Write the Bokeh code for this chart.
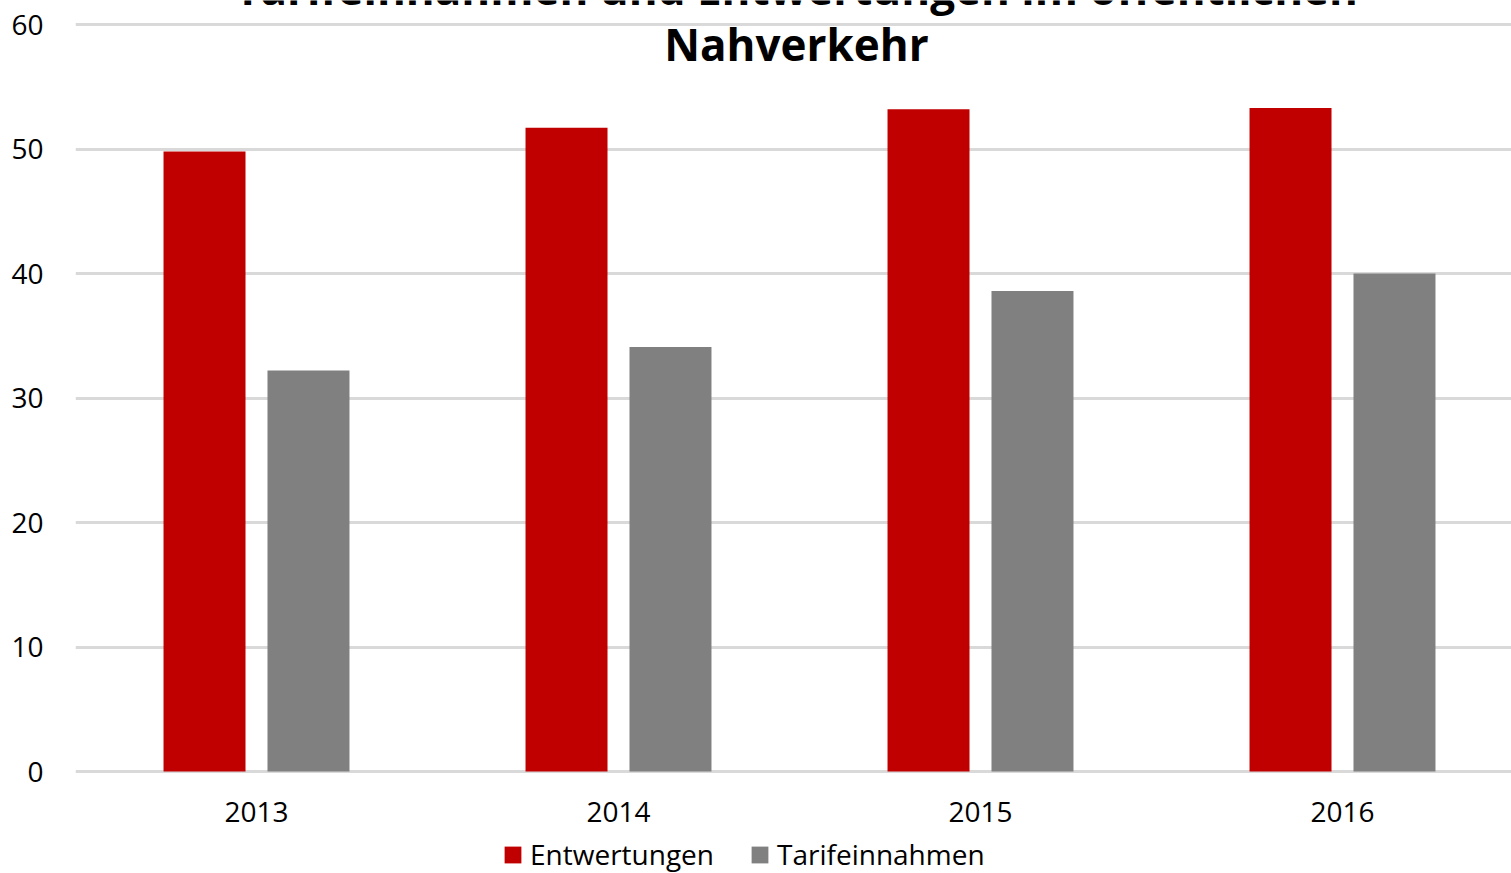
import numpy as np
from bokeh.plotting import figure
from bokeh.models import (ColumnDataSource, Range1d, FixedTicker, Legend, LegendItem, Label)
from bokeh.transform import dodge
from bokeh.embed import file_html
from bokeh.resources import INLINE

years = ["2013", "2014", "2015", "2016"]
entwertungen = [49.8, 51.7, 53.2, 53.3]
tarifeinnahmen = [32.2, 34.1, 38.6, 40.0]
y_ticks = [0, 10, 20, 30, 40, 50, 60]
title_lines = ["Tarifeinnahmen und Entwertungen im öffentlichen", "Nahverkehr"]

idx = list(range(len(years)))
src = ColumnDataSource(dict(x=idx, year=years, ent=entwertungen, tar=tarifeinnahmen))

FONT = "Open Sans"
cat_px = 362.0
px_per_unit = 12.45
frame_w = 1511 - 75
x_end = -0.5 + frame_w / cat_px
y_top = 60 + 24 / px_per_unit
y_bottom = y_top - 873 / px_per_unit

p = figure(width=1511, height=873, output_backend="svg", toolbar_location=None,
           x_range=Range1d(-0.5, x_end), y_range=Range1d(y_bottom, y_top),
           min_border_left=75, min_border_right=0, min_border_top=0, min_border_bottom=0)
p.outline_line_color = None
p.background_fill_color = "white"
p.border_fill_color = "white"

r1 = p.vbar(x=dodge("x", -0.1436, range=p.x_range), top="ent", width=0.2265, source=src,
            fill_color="#C00000", line_color=None)
r2 = p.vbar(x=dodge("x", 0.1436, range=p.x_range), top="tar", width=0.2265, source=src,
            fill_color="#808080", line_color=None)

p.xgrid.grid_line_color = None
p.ygrid.grid_line_color = "#d9d9d9"
p.ygrid.grid_line_width = 3
p.ygrid.ticker = FixedTicker(ticks=y_ticks)

p.yaxis.ticker = FixedTicker(ticks=y_ticks)
p.xaxis.ticker = FixedTicker(ticks=idx)
p.xaxis.major_label_overrides = {i: y for i, y in zip(idx, years)}
p.xaxis.fixed_location = 0
for ax in (p.xaxis[0], p.yaxis[0]):
    ax.axis_line_color = None
    ax.major_tick_line_color = None
    ax.minor_tick_line_color = None
    ax.major_label_text_font = FONT
    ax.major_label_text_font_size = "28px"
    ax.major_label_text_color = "#000000"
p.yaxis.major_label_standoff = 26
p.xaxis.major_label_standoff = 24

legend = Legend(items=[LegendItem(label="Entwertungen", renderers=[r1]),
                       LegendItem(label="Tarifeinnahmen", renderers=[r2])],
                orientation="horizontal", location=(427, 0),
                glyph_width=21, glyph_height=21, label_standoff=7, spacing=35,
                padding=0, margin=0, border_line_alpha=0, background_fill_alpha=0,
                label_text_font=FONT, label_text_font_size="28px", label_text_color="#000000")
p.add_layout(legend, "center")

title_x = (x_end - 0.5) / 2 + 3 / cat_px
for line, ypos in zip(title_lines, [60.56, 56.0]):
    p.add_layout(Label(x=title_x, y=ypos, text=line,
                       text_align="center", text_baseline="bottom",
                       text_font=FONT, text_font_size="44px",
                       text_font_style="bold", text_color="#000000"))

open("out.html", "w").write(file_html(p, INLINE))
